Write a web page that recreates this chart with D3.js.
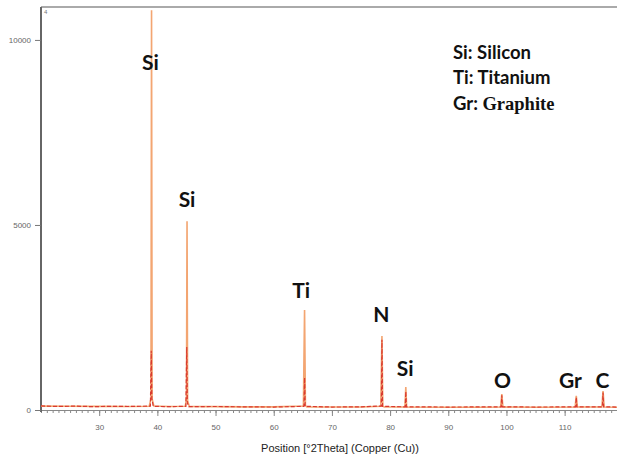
<!DOCTYPE html>
<html>
<head>
<meta charset="utf-8">
<script src="https://cdn.jsdelivr.net/npm/d3@7/dist/d3.min.js"></script>
<style>
  body { margin: 0; background: #fff; }
  svg { display: block; }
  .tick text { font-family: "Liberation Sans", Arial, sans-serif; fill: #666; }
</style>
</head>
<body>
<div id="chart"></div>
<script>
var twoTheta = [20, 25, 30, 35, 38.6, 38.9, 39.0, 39.1, 39.4, 42, 44.8, 45.0, 45.1, 45.2, 45.5,
  50, 55, 60, 65.1, 65.3, 65.45, 65.7, 70, 75, 78.4, 78.6, 78.75, 79.0, 82.55, 82.7, 82.85,
  90, 95, 99.0, 99.2, 99.4, 105, 111.8, 112.0, 112.2, 116.4, 116.6, 116.8, 119];
var counts = [105, 100, 98, 95, 100, 300, 10800, 300, 110, 95, 100, 300, 5100, 250, 95,
  90, 85, 85, 110, 2700, 120, 85, 80, 80, 100, 2000, 100, 80, 80, 620, 80,
  75, 75, 80, 430, 80, 75, 80, 380, 80, 80, 510, 80, 75];

// second scan (red dashed)
var twoTheta2 = [20, 23, 26, 29, 32, 35, 38.8, 38.95, 39.05, 39.3, 42, 44.9, 45.05, 45.15, 45.4,
  50, 55, 60, 65.2, 65.3, 65.4, 70, 75, 78.5, 78.6, 78.7, 82.6, 82.7, 82.8,
  90, 99.1, 99.2, 99.3, 105, 111.9, 112.0, 112.1, 116.5, 116.6, 116.7, 119];
var counts2 = [110, 95, 105, 90, 100, 95, 105, 1600, 300, 100, 90, 100, 1700, 200, 90,
  95, 85, 80, 100, 870, 100, 80, 85, 110, 1900, 100, 85, 500, 85,
  80, 85, 400, 85, 80, 85, 340, 85, 85, 470, 85, 80];

var yTicks = [0, 5000, 10000];
var xTicks = [30, 40, 50, 60, 70, 80, 90, 100, 110];

// peak annotations: text, 2theta, counts (label centre)
var peakLabels = ["Si", "Si", "Ti", "N", "Si", "O", "Gr", "C"];
var peakLabelX = [38.8, 45.1, 64.7, 78.5, 82.6, 99.3, 111.0, 116.5];
var peakLabelY = [9400, 5680, 3220, 2570, 1110, 810, 790, 810];

var legendKeys = ["Si:", "Ti:", "Gr:"];
var legendNames = ["Silicon", "Titanium", "Graphite"];

var W = 617, H = 459;
var margin = {top: 7, right: 0, bottom: 49, left: 41};

var svg = d3.select("#chart").append("svg")
  .attr("width", W).attr("height", H);

var x = d3.scaleLinear().domain([20, 119]).range([margin.left, W - margin.right]);
var y = d3.scaleLinear().domain([0, 10890]).range([H - margin.bottom, margin.top]);

// top frame line
svg.append("line")
  .attr("x1", margin.left).attr("x2", W)
  .attr("y1", margin.top).attr("y2", margin.top)
  .attr("stroke", "#aaa").attr("stroke-width", 2);

// x axis (minor + major ticks)
var xMinor = d3.axisBottom(x).tickValues(d3.range(21, 119, 1)).tickSize(3).tickFormat("");
svg.append("g")
  .attr("transform", "translate(0," + y(0) + ")")
  .call(xMinor)
  .call(g => g.select(".domain").attr("stroke", "#888"))
  .call(g => g.selectAll(".tick line").attr("stroke", "#888"));

svg.append("g")
  .attr("transform", "translate(0," + y(0) + ")")
  .call(d3.axisBottom(x).tickValues(xTicks).tickSize(6).tickPadding(8))
  .call(g => g.select(".domain").remove())
  .call(g => g.selectAll(".tick line").attr("stroke", "#888"))
  .call(g => g.selectAll(".tick text").attr("font-size", 8));

// y axis
svg.append("g")
  .attr("transform", "translate(" + margin.left + ",0)")
  .call(d3.axisLeft(y).tickValues(yTicks).tickSize(6).tickPadding(4).tickFormat(d3.format("d")))
  .call(g => g.select(".domain").attr("d", "M0," + (y(0) + 2) + "V" + margin.top)
    .attr("stroke", "#666").attr("stroke-width", 2))
  .call(g => g.selectAll(".tick line").attr("stroke", "#777"))
  .call(g => g.selectAll(".tick text").attr("font-size", 8));

svg.append("text")
  .attr("x", margin.left + 3).attr("y", margin.top + 7)
  .attr("font-family", "Liberation Sans, Arial, sans-serif")
  .attr("font-size", 6).attr("fill", "#777")
  .text("4");

// pattern lines
var line = d3.line().x(d => x(d[0])).y(d => y(d[1]));

svg.append("path")
  .datum(d3.zip(twoTheta, counts))
  .attr("d", line)
  .attr("fill", "none")
  .attr("stroke", "#f3a571")
  .attr("stroke-width", 1.6);

svg.append("path")
  .datum(d3.zip(twoTheta2, counts2))
  .attr("d", line)
  .attr("fill", "none")
  .attr("stroke", "#d93a30")
  .attr("stroke-width", 1.2)
  .attr("stroke-dasharray", "4,2");

// axis title
svg.append("text")
  .attr("x", 340).attr("y", 452)
  .attr("text-anchor", "middle")
  .attr("font-family", "Liberation Sans, Arial, sans-serif")
  .attr("font-size", 11).attr("fill", "#222")
  .text("Position [°2Theta] (Copper (Cu))");

// peak labels
svg.selectAll(".peak-label")
  .data(peakLabels)
  .enter().append("text")
  .attr("class", "peak-label")
  .attr("x", (d, i) => x(peakLabelX[i]))
  .attr("y", (d, i) => y(peakLabelY[i]))
  .attr("dy", "0.36em")
  .attr("text-anchor", "middle")
  .attr("font-family", "Lato, 'Open Sans', sans-serif")
  .attr("font-weight", "bold")
  .attr("font-size", 21)
  .attr("fill", "#111")
  .text(d => d);

// element key
var legend = svg.append("g").attr("transform", "translate(453,52)");
legendKeys.forEach((k, i) => {
  var t = legend.append("text")
    .attr("x", 0).attr("y", i * 25.5)
    .attr("dy", "0.36em")
    .attr("font-weight", "bold")
    .attr("font-size", 18.5)
    .attr("fill", "#111");
  t.append("tspan")
    .attr("font-family", "Lato, sans-serif")
    .text(k + " ");
  t.append("tspan")
    .attr("font-family", i === 2 ? "'Liberation Serif', 'Times New Roman', serif" : "Lato, sans-serif")
    .text(legendNames[i]);
});
</script>
</body>
</html>
